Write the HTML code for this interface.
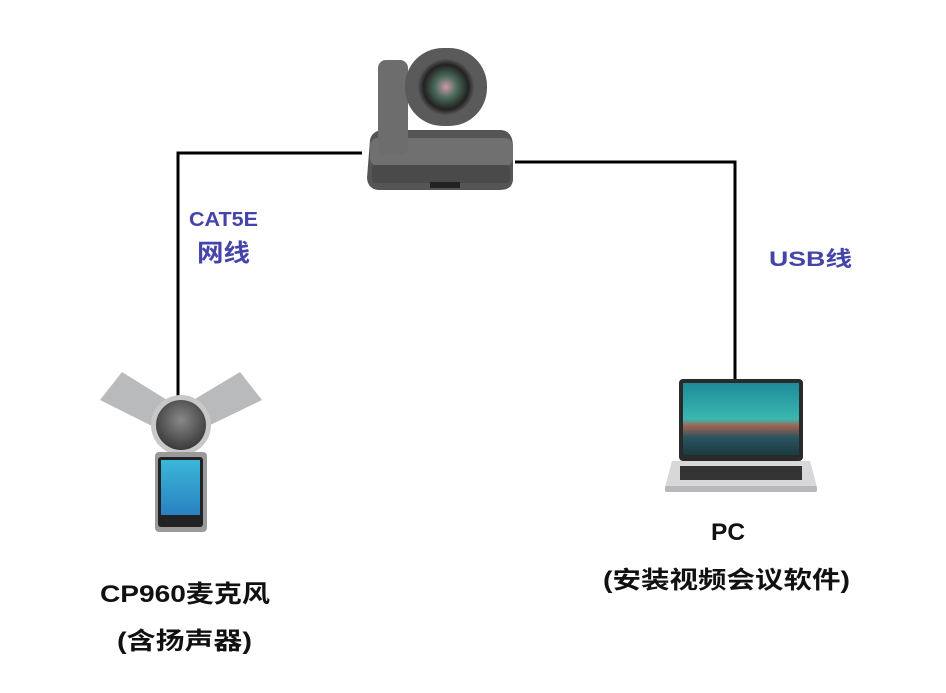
<!DOCTYPE html>
<html><head><meta charset="utf-8"><style>
body{margin:0;background:#fff;width:946px;height:688px;overflow:hidden}
.t{font-family:"Liberation Sans","Noto Sans CJK SC",sans-serif;font-weight:bold}
</style></head><body>
<svg width="946" height="688" xmlns="http://www.w3.org/2000/svg">
<defs>
<radialGradient id="lens" cx="50%" cy="50%" r="50%"><stop offset="0" stop-color="#c9a"/><stop offset="0.4" stop-color="#4a6a5a"/><stop offset="0.8" stop-color="#222"/><stop offset="1" stop-color="#555"/></radialGradient>
<radialGradient id="spk" cx="50%" cy="40%" r="60%"><stop offset="0" stop-color="#888"/><stop offset="1" stop-color="#3a3a3a"/></radialGradient>
<linearGradient id="scr" x1="0" y1="0" x2="0" y2="1"><stop offset="0" stop-color="#1e8a9a"/><stop offset="0.5" stop-color="#3bb8b0"/><stop offset="0.6" stop-color="#a06050"/><stop offset="0.75" stop-color="#2c5560"/><stop offset="1" stop-color="#1a3a40"/></linearGradient>
<linearGradient id="ph" x1="0" y1="0" x2="0" y2="1"><stop offset="0" stop-color="#3ab8d8"/><stop offset="1" stop-color="#2a80c0"/></linearGradient>
</defs>
<polyline points="362,153 178,153 178,398" fill="none" stroke="#000" stroke-width="3"/>
<polyline points="515,162 735,162 735,392" fill="none" stroke="#000" stroke-width="3"/>
<!-- camera -->
<path d="M370,140 Q372,130 385,130 L500,130 Q512,130 513,145 L513,180 Q512,190 500,190 L380,190 Q368,190 367,178 Z" fill="#555"/>
<rect x="370" y="138" width="143" height="28" rx="8" fill="#707070"/>
<rect x="372" y="165" width="138" height="18" rx="4" fill="#4a4a4a"/>
<rect x="378" y="60" width="30" height="95" rx="8" fill="#6d6d6d"/>
<rect x="405" y="48" width="82" height="78" rx="38" fill="#5a5a5a"/>
<circle cx="446" cy="87" r="28" fill="url(#lens)"/>
<rect x="430" y="182" width="30" height="6" fill="#222"/>
<!-- phone -->
<polygon points="100,400 122,372 175,405 160,430" fill="#b8babc"/>
<polygon points="262,400 240,372 185,405 200,430" fill="#b8babc"/>
<circle cx="181" cy="425" r="30" fill="#c8c8c8"/>
<circle cx="181" cy="425" r="25" fill="url(#spk)"/>
<rect x="155" y="452" width="52" height="80" rx="4" fill="#9a9a9a"/>
<rect x="158" y="457" width="45" height="70" rx="3" fill="#222"/>
<rect x="161" y="460" width="39" height="55" fill="url(#ph)"/>
<!-- laptop -->
<rect x="679" y="379" width="124" height="82" rx="4" fill="#2a2a2a"/>
<rect x="683" y="383" width="116" height="72" fill="url(#scr)"/>
<polygon points="672,461 810,461 817,487 665,487" fill="#d8d8da"/>
<rect x="680" y="466" width="122" height="14" fill="#333"/>
<rect x="665" y="486" width="152" height="6" rx="2" fill="#b8b8ba"/>
<!-- text -->
<text class="t" x="189" y="226" font-size="20" fill="#4444aa" textLength="69" lengthAdjust="spacingAndGlyphs">CAT5E</text>
<text class="t" x="197" y="261" font-size="24" fill="#4444aa" textLength="53" lengthAdjust="spacingAndGlyphs">网线</text>
<text class="t" x="769" y="266" font-size="21" fill="#4444aa" textLength="83" lengthAdjust="spacingAndGlyphs">USB线</text>
<text class="t" x="711" y="540" font-size="24" fill="#111" textLength="34" lengthAdjust="spacingAndGlyphs">PC</text>
<text class="t" x="603" y="588" font-size="24" fill="#111" textLength="247" lengthAdjust="spacingAndGlyphs">(安装视频会议软件)</text>
<text class="t" x="100" y="602" font-size="24" fill="#111" textLength="170" lengthAdjust="spacingAndGlyphs">CP960麦克风</text>
<text class="t" x="117" y="649" font-size="24" fill="#111" textLength="135" lengthAdjust="spacingAndGlyphs">(含扬声器)</text>
</svg>
</body></html>
